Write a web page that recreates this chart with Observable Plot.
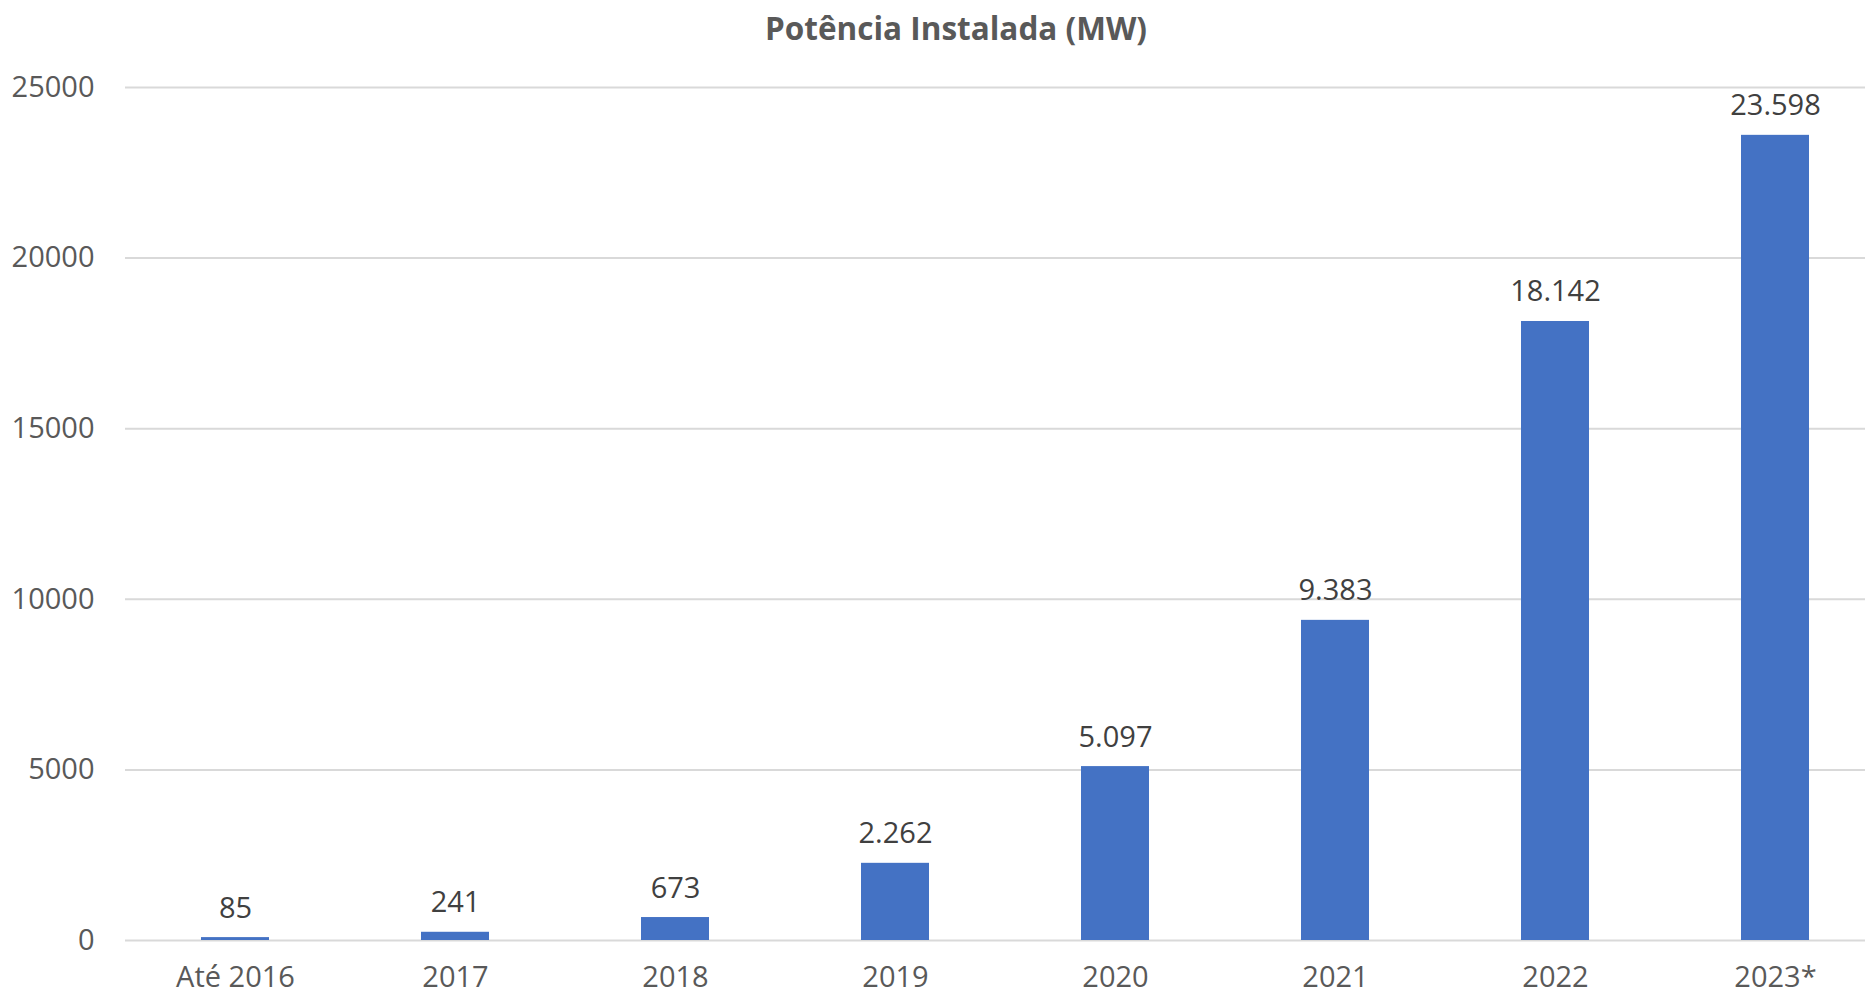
<!DOCTYPE html>
<html>
<head>
<meta charset="utf-8">
<script src="https://cdn.jsdelivr.net/npm/d3@7"></script>
<script src="https://cdn.jsdelivr.net/npm/@observablehq/plot@0.6"></script>
<style>
  html, body { margin: 0; padding: 0; background: #fff; }
  #wrap { position: relative; width: 1865px; height: 995px; overflow: hidden; }
  #title { position: absolute; top: 0; left: 956px; transform: translateX(-50%); height: 60px; line-height: 56px;
    font-family: "Open Sans", sans-serif; font-weight: 700; font-size: 31.5px; color: #595959; white-space: nowrap; }
  #chart { position: absolute; top: 60px; left: 0; }
</style>
</head>
<body>
<div id="wrap">
  <div id="title">Potência Instalada (MW)</div>
  <div id="chart"></div>
</div>
<script>
const categories = ["Até 2016", "2017", "2018", "2019", "2020", "2021", "2022", "2023*"];
const values = [85, 241, 673, 2262, 5097, 9383, 18142, 23598];
const yTicks = [0, 5000, 10000, 15000, 20000, 25000];

const data = categories.map((c, i) => ({category: c, value: values[i]}));
const ptFormat = d3.formatLocale({decimal: ",", thousands: ".", grouping: [3], currency: ["R$", ""]}).format(",d");

const chart = Plot.plot({
  width: 1865,
  height: 935,
  marginTop: 27,
  marginBottom: 55,
  marginLeft: 125,
  marginRight: 0,
  style: {fontFamily: "'Open Sans', sans-serif", fontSize: "29px", color: "#595959", background: "#fff"},
  x: {domain: categories, range: [125, 1885], paddingInner: 0.69, paddingOuter: 0.345, label: null},
  y: {domain: [0, 25000], label: null},
  marks: [
    Plot.ruleY(yTicks, {stroke: "#d9d9d9", strokeWidth: 2}),
    Plot.barY(data, {x: "category", y: "value", fill: "#4472c4"}),
    Plot.text(data, {x: "category", y: "value", text: d => ptFormat(d.value), dy: -20, lineAnchor: "bottom", fill: "#404040", fontSize: 29}),
    Plot.axisY({ticks: yTicks, tickFormat: d3.format("d"), tickSize: 0, tickPadding: 31, fontSize: 29, fill: "#595959", label: null}),
    Plot.axisX({tickSize: 0, tickPadding: 26, fontSize: 29, fill: "#595959", label: null})
  ]
});
document.getElementById("chart").appendChild(chart);
</script>
</body>
</html>
